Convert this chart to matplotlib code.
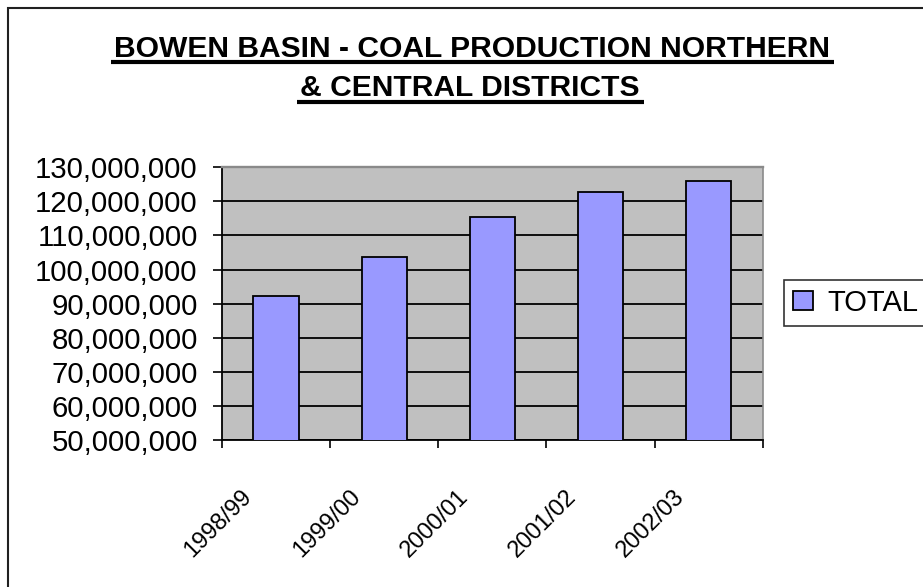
#!/usr/bin/env python3

import matplotlib

matplotlib.use('Agg')

import matplotlib.pyplot as plt
import matplotlib.patches as patches
from matplotlib.lines import Line2D
from matplotlib.ticker import FuncFormatter, MultipleLocator
from matplotlib.transforms import ScaledTranslation

# Data
years = ['1998/99', '1999/00', '2000/01', '2001/02', '2002/03']
total = [92200000, 103800000, 115500000, 122700000, 126100000]
series_name = 'TOTAL'
title_lines = ['BOWEN BASIN - COAL PRODUCTION NORTHERN', '& CENTRAL DISTRICTS']

plt.rcParams['font.family'] = ['Liberation Sans', 'DejaVu Sans']

W, H = 923, 587
fig = plt.figure(figsize=(W / 100, H / 100), dpi=100)
fig.patch.set_facecolor('white')

# Chart border (only left and top visible, the rest is cropped)
fig.patches.append(patches.Rectangle((8 / W, -0.1), 1.2, 1.1 - 8 / H,
                                     transform=fig.transFigure, fill=False,
                                     edgecolor='#202020', linewidth=1.5))

ax = fig.add_axes([222 / W, 1 - 440 / H, (762.7 - 222) / W, (440 - 167.3) / H])
ax.set_facecolor('#C0C0C0')

x = list(range(len(years)))
ax.bar(x, total, width=0.42, color='#9999FF', edgecolor='black',
       linewidth=1.3, zorder=3, label=series_name)

ax.set_xlim(-0.5, len(years) - 0.5)
ax.set_ylim(50000000, 130000000)
ax.yaxis.set_major_locator(MultipleLocator(10000000))
ax.yaxis.set_major_formatter(FuncFormatter(lambda v, p: f'{int(v):,}'))
ax.grid(axis='y', color='black', linewidth=1.3, zorder=1)
ax.set_axisbelow(True)

ax.spines['left'].set_color('black')
ax.spines['bottom'].set_color('black')
ax.spines['left'].set_linewidth(1.3)
ax.spines['bottom'].set_linewidth(1.3)
# gray frame on top/right, wide enough to hide the 130M grid line
ax.spines['top'].set_color('#8a8a8a')
ax.spines['right'].set_color('#8a8a8a')
ax.spines['top'].set_linewidth(1.7)
ax.spines['right'].set_linewidth(1.2)

ax.tick_params(axis='y', direction='out', length=6.5, width=1.2,
               pad=11, labelsize=21.2, colors='black')

# Category ticks sit between the bars, labels are placed separately
ax.set_xticks([])
ax.set_xticks([i - 0.5 for i in range(len(years) + 1)], minor=True)
ax.tick_params(axis='x', which='minor', direction='out', length=5.8, width=1.2)

offset = ScaledTranslation(-0.35, -0.46, fig.dpi_scale_trans)
for i, lab in enumerate(years):
    ax.text(i, 0, lab, transform=ax.get_xaxis_transform() + offset,
            rotation=45, rotation_mode='anchor', ha='right', va='top',
            fontsize=17)

# Legend box on the right
ax.legend(loc='center left', bbox_to_anchor=(784 / W, 1 - 303 / H),
          bbox_transform=fig.transFigure, fontsize=21, frameon=True,
          fancybox=False, edgecolor='black', borderpad=0.3,
          handlelength=0.7, handleheight=0.6, handletextpad=0.5,
          borderaxespad=0)
ax.get_legend().get_frame().set_linewidth(1.2)

# Title, two underlined lines
t1 = fig.text(472 / W, 1 - 56.7 / H, title_lines[0], ha='center',
              va='baseline', fontsize=21.6, fontweight='bold')
t2 = fig.text(470 / W, 1 - 96 / H, title_lines[1], ha='center',
              va='baseline', fontsize=21.6, fontweight='bold')

fig.canvas.draw()
renderer = fig.canvas.get_renderer()
for t, uy in [(t1, 62), (t2, 101.8)]:
    bb = t.get_window_extent(renderer)
    fig.add_artist(Line2D([(bb.x0 - 3) / W, (bb.x1 + 4) / W],
                          [1 - uy / H, 1 - uy / H],
                          transform=fig.transFigure, color='black',
                          linewidth=3.0, solid_capstyle='butt'))

fig.savefig('out.png', dpi=100)
